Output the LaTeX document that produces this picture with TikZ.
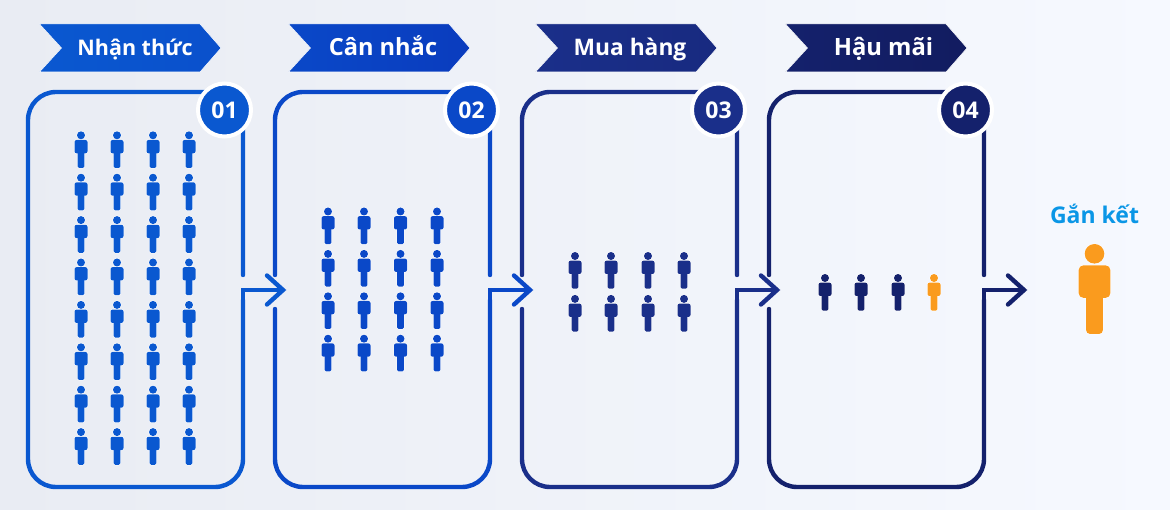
\documentclass[tikz,border=0pt]{standalone}
\usepackage{fontspec}
\setmainfont{Open Sans}
\usetikzlibrary{calc}
\definecolor{paleL}{HTML}{E9ECF3}
\definecolor{paleR}{HTML}{F6F9FF}
\definecolor{stepA}{HTML}{0A58D0}
\definecolor{stepB}{HTML}{0A48C8}
\definecolor{stepC}{HTML}{1A2F8A}
\definecolor{stepD}{HTML}{14216C}
\definecolor{tipA}{HTML}{0A50CC}
\definecolor{tipB}{HTML}{0A3CBE}
\definecolor{tipC}{HTML}{182A80}
\definecolor{tipD}{HTML}{121C60}
\definecolor{amber}{HTML}{FA9B1E}
\definecolor{sky}{HTML}{0A96E6}
\tikzset{
  x=1pt, y=-1pt,
  frameline/.style={line width=4.4pt, line cap=round, line join=round, rounded corners=28pt},
  tipline/.style={line width=4.4pt, line cap=round, line join=miter},
  boxslot/.style={rectangle, minimum width=215pt, minimum height=395pt, inner sep=0pt, outer sep=0pt},
  banner/.style={draw=white, line width=.5pt, line join=miter},
  bannertext/.style={text=white, inner sep=0pt},
  badge/.style={circle, minimum size=53pt, inner sep=0pt, draw=white, line width=4pt,
                font=\bfseries\fontsize{23}{24}\selectfont, text=white},
  pics/person/.style={code={
    % pale halo first, then the solid figure on top
    \path[draw=white, line width=1pt]
      (0,{4*#1}) circle[radius={4*#1}];
    \path[draw=white, line width=1pt, rounded corners={#1*2pt}]
      ({-6.5*#1},{8.7*#1}) rectangle ({6.5*#1},{22*#1});
    \path[draw=white, line width=1pt, rounded corners={#1*1.5pt}]
      ({-3.4*#1},{15*#1}) rectangle ({3.4*#1},{36.7*#1});
    \path[pic actions] (0,{4*#1}) circle[radius={4*#1}];
    \path[pic actions, rounded corners={#1*2pt}]
      ({-6.5*#1},{8.7*#1}) rectangle ({6.5*#1},{22*#1});
    \path[pic actions, rounded corners={#1*1.5pt}]
      ({-3.4*#1},{15*#1}) rectangle ({3.4*#1},{36.7*#1});
  }},
}
\begin{document}
\begin{tikzpicture}
  \useasboundingbox (0,0) rectangle (1170,510);
  \shade[left color=paleL, right color=paleR] (0,0) rectangle (1170,510);

  % invisible slots that anchor the four frames
  \node[boxslot] (box1) at (135.5,289.5) {};
  \node[boxslot] (box2) at (382.5,289.5) {};
  \node[boxslot] (box3) at (629.5,289.5) {};
  \node[boxslot] (box4) at (876.5,289.5) {};

  % frames: each right side breaks above the outgoing elbow
  \draw[frameline, stepA]
    (box1.east |- 0,275) -- (box1.north east) -- (box1.north west)
    -- (box1.south west) -- (box1.south east) -- (box1.east |- 0,300);
  \foreach \n/\c in {2/stepB,3/stepC,4/stepD}{
    \draw[frameline, \c]
      (box\n.east |- 0,275) -- (box\n.north east) -- (box\n.north west)
      -- (box\n.west |- 0,275);
    \draw[frameline, \c]
      (box\n.west |- 0,309) -- (box\n.south west) -- (box\n.south east)
      -- (box\n.east |- 0,300);
  }

  % elbow arrows leaving each frame
  \coordinate (tip1) at (283,290);
  \coordinate (tip2) at (530,290);
  \coordinate (tip3) at (777,290);
  \coordinate (tip4) at (1024,290);
  \foreach \n/\c in {1/stepA,2/stepB,3/stepC,4/stepD}{
    \draw[tipline, \c, line cap=butt] (box\n.east |- 0,302) -- (box\n.east |- tip\n) -- (tip\n);
    \draw[tipline, \c] ($(tip\n)+(-16,-14.5)$) -- (tip\n) -- ($(tip\n)+(-16,14.5)$);
  }

  % ribbons above the frames
  \foreach \n/\xa/\ca/\cb/\tx/\fs/\lab in {
      1/39.5/stepA/tipA/135/21.5/Nhận thức,
      2/288.5/stepB/tipB/383/23.6/Cân nhắc,
      3/535.5/stepC/tipC/630/22.8/Mua hàng,
      4/785.5/stepD/tipD/883.5/23.8/Hậu mãi}{
    \shade[banner, left color=\ca, right color=\cb]
      (\xa,24) -- ++(160.5,0) -- ++(21,24) -- ++(-21,24) -- ++(-160.5,0) -- ++(22,-24) -- cycle;
    \node[bannertext, anchor=base, font=\bfseries\fontsize{\fs}{24}\selectfont] (ribbon\n) at (\tx,55.5) {\lab};
  }

  % numbered badges
  \node[badge, fill=stepA] (badge1) at (224.5,110) {01};
  \node[badge, fill=stepB] (badge2) at (471.5,110) {02};
  \node[badge, fill=stepC] (badge3) at (718.5,110) {03};
  \node[badge, fill=stepD] (badge4) at (965.5,110) {04};

  % head counts shrinking stage by stage
  \foreach \cx in {81,117,153,189}
    \foreach \r in {0,...,7}
      \pic[fill=stepA] at (\cx,131.3+42.4*\r) {person=1};
  \foreach \cx in {328,364,400.5,437}
    \foreach \r in {0,...,3}
      \pic[fill=stepB] at (\cx,207.5+42.4*\r) {person=1};
  \foreach \cx in {575,611,648,684}
    \foreach \r in {0,1}
      \pic[fill=stepC] at (\cx,252+42.9*\r) {person=1};
  \foreach \cx in {825,861,898}
    \pic[fill=stepD] at (\cx,274) {person=1};
  \pic[fill=amber] at (934,274) {person=1};

  % the engaged customer
  \node[font=\bfseries\fontsize{23}{24}\selectfont, text=sky, inner sep=0pt, anchor=base] (engage) at (1094.5,223.5) {Gắn kết};
  \pic[fill=amber] at (1094.5,244) {person=2.45};
\end{tikzpicture}
\end{document}
